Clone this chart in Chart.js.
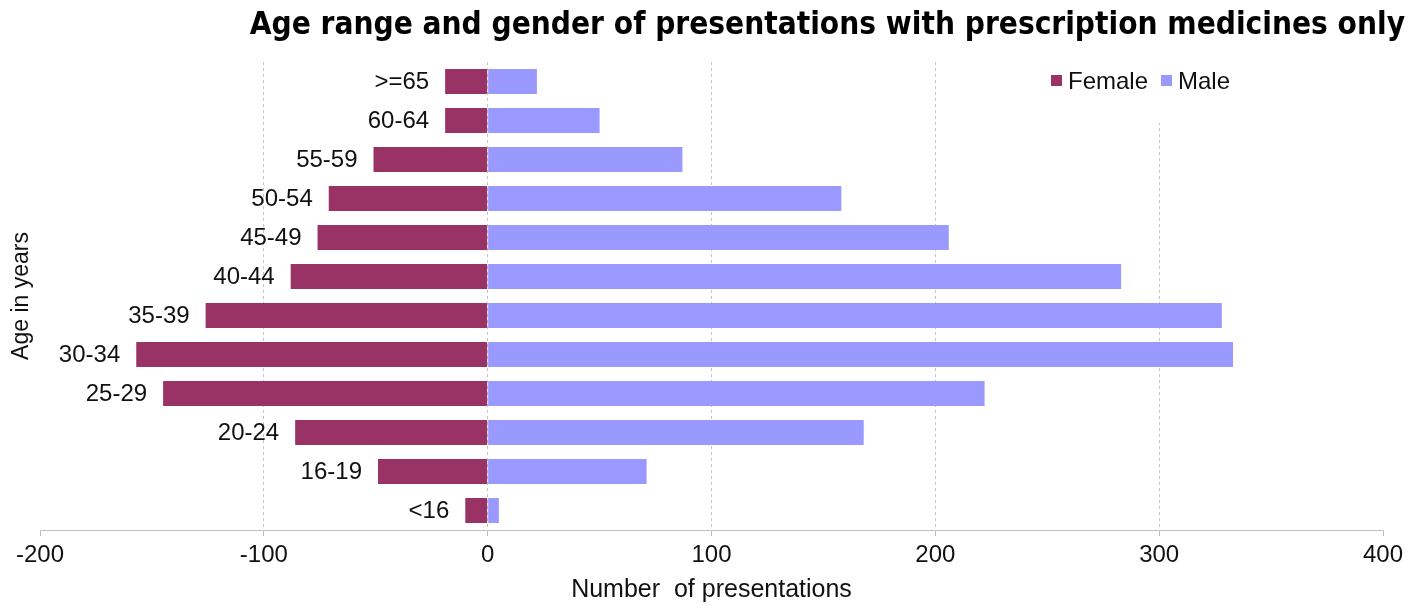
<!DOCTYPE html>
<html>
<head>
<meta charset="utf-8">
<script src="https://cdn.jsdelivr.net/npm/chart.js@4.4.1/dist/chart.umd.min.js"></script>
<style>
  html, body { margin: 0; padding: 0; background: #fff; }
  #wrap { width: 1411px; height: 606px; }
</style>
</head>
<body>
<div id="wrap"><canvas id="chart" width="1411" height="606"></canvas></div>
<script>
// data
const ageGroups = [">=65", "60-64", "55-59", "50-54", "45-49", "40-44", "35-39", "30-34", "25-29", "20-24", "16-19", "<16"];
const female = [-19, -19, -51, -71, -76, -88, -126, -157, -145, -86, -49, -10];
const male = [22, 50, 87, 158, 206, 283, 328, 333, 222, 168, 71, 5];
const xMin = -200, xMax = 400, xStep = 100;

const chartTitle = "Age range and gender of presentations with prescription medicines only";
const xTitle = "Number  of presentations";
const yTitle = "Age in years";

const FONT = "'Liberation Sans', Arial, sans-serif";
Chart.defaults.font.family = FONT;
Chart.defaults.color = "#111";

// title drawn right-aligned, hanging past the plot edge like the original
const titlePlugin = {
  id: "rightTitle",
  afterDraw(chart) {
    const ctx = chart.ctx;
    ctx.save();
    ctx.font = "bold 31.3px 'DejaVu Sans Condensed', 'DejaVu Sans', sans-serif";
    ctx.fillStyle = "#000";
    ctx.textAlign = "right";
    ctx.textBaseline = "middle";
    ctx.fillText(chartTitle, chart.width - 6, 26);
    ctx.restore();
  },
};

// age labels sit just left of each female bar
const ageLabelPlugin = {
  id: "ageLabels",
  afterDatasetsDraw(chart) {
    const ctx = chart.ctx;
    const bars = chart.getDatasetMeta(0).data;
    ctx.save();
    ctx.font = "24px " + FONT;
    ctx.fillStyle = "#111";
    ctx.textAlign = "right";
    ctx.textBaseline = "middle";
    bars.forEach((bar, i) => {
      const left = Math.min(bar.x, bar.base);
      ctx.fillText(ageGroups[i], left - 16, bar.y + 1);
    });
    ctx.restore();
  },
};

// legend inside the plot, with a white box masking the grid behind it
const legendPlugin = {
  id: "innerLegend",
  afterDraw(chart) {
    const ctx = chart.ctx;
    const top = chart.chartArea.top;
    ctx.save();
    ctx.fillStyle = "#fff";
    ctx.fillRect(1040, top, 215, 61);
    ctx.font = "24px " + FONT;
    ctx.textBaseline = "middle";
    ctx.textAlign = "left";
    let x = 1051;
    const y = 81;
    chart.data.datasets.forEach((ds) => {
      ctx.fillStyle = ds.backgroundColor;
      ctx.fillRect(x, y - 6, 11, 11);
      ctx.fillStyle = "#111";
      ctx.fillText(ds.label, x + 17, y + 1);
      x += 17 + ctx.measureText(ds.label).width + 13;
    });
    ctx.restore();
  },
};

new Chart(document.getElementById("chart"), {
  type: "bar",
  data: {
    labels: ageGroups,
    datasets: [
      { label: "Female", data: female, backgroundColor: "#993366", borderWidth: 0 },
      { label: "Male", data: male, backgroundColor: "#9999FF", borderWidth: 0 },
    ],
  },
  options: {
    indexAxis: "y",
    responsive: false,
    devicePixelRatio: 1,
    animation: false,
    barPercentage: 0.64,
    categoryPercentage: 1,
    layout: { padding: { top: 62, right: 28, bottom: 0, left: 0 } },
    plugins: {
      legend: { display: false },
      title: { display: false },
      tooltip: { enabled: false },
    },
    scales: {
      x: {
        type: "linear",
        stacked: true,
        min: xMin,
        max: xMax,
        ticks: { stepSize: xStep, font: { size: 24 }, color: "#111", padding: 5 },
        grid: {
          color: (c) => (c.tick && (c.tick.value === xMin || c.tick.value === xMax) ? "rgba(0,0,0,0)" : "#c4c4c4"),
          tickColor: "#bfbfbf",
          tickLength: 6,
          lineWidth: 1,
        },
        border: { display: true, color: "#bfbfbf", width: 1, dash: [3, 3] },
        title: { display: true, text: xTitle, font: { size: 25 }, color: "#111", padding: { top: 0, bottom: 1 } },
        afterFit: (s) => { s.height = 76; },
      },
      y: {
        stacked: true,
        grid: { display: false },
        border: { display: false },
        ticks: { display: false },
        title: { display: true, text: yTitle, font: { size: 23 }, color: "#111", padding: { top: 8, bottom: 0 } },
        afterFit: (s) => { s.width = 40; },
      },
    },
  },
  plugins: [titlePlugin, ageLabelPlugin, legendPlugin],
});
</script>
</body>
</html>
